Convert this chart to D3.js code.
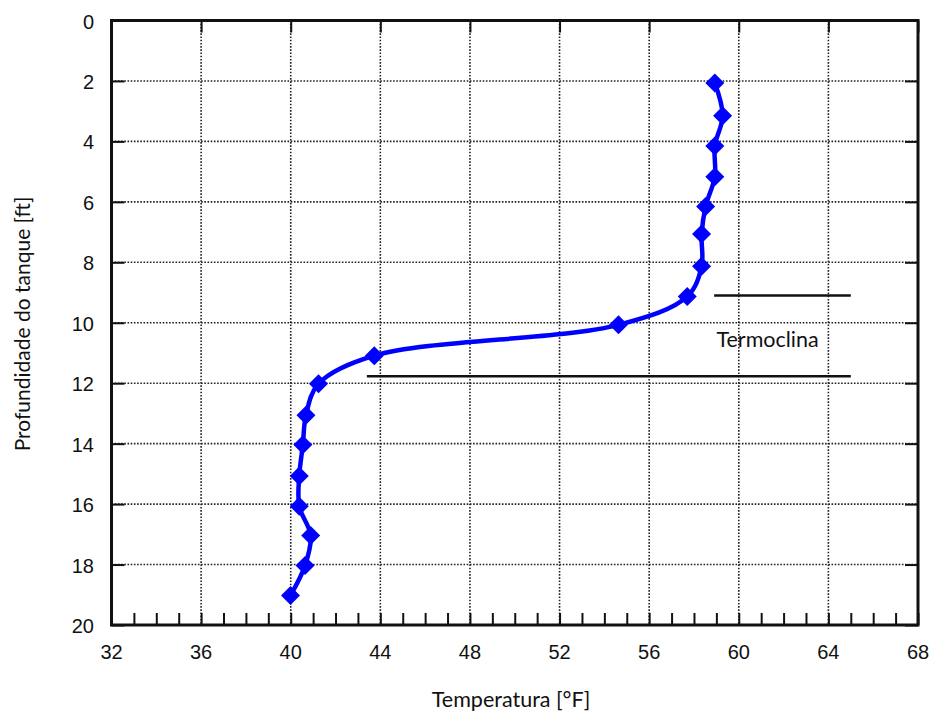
<!DOCTYPE html>
<html>
<head>
<meta charset="utf-8">
<script src="https://cdn.jsdelivr.net/npm/d3@7"></script>
<style>
  body { margin: 0; background: #fff; }
</style>
</head>
<body>
<div id="chart"></div>
<script>
// depth profile of the tank
var depths = [2.07, 3.15, 4.15, 5.17, 6.15, 7.06, 8.13, 9.13, 10.07, 11.09, 12.02, 13.06, 14.04, 15.07, 16.07, 17.04, 18.03, 19.02];
var temps  = [58.93, 59.28, 58.93, 58.93, 58.52, 58.34, 58.34, 57.70, 54.63, 43.73, 41.24, 40.68, 40.54, 40.38, 40.38, 40.89, 40.64, 39.99];

var xTicks = [32, 36, 40, 44, 48, 52, 56, 60, 64, 68];
var yTicks = [0, 2, 4, 6, 8, 10, 12, 14, 16, 18, 20];

// thermocline markers: [tempStart, tempEnd, depth]
var thermoTop = [58.9, 65.0, 9.1];
var thermoBottom = [43.4, 65.0, 11.77];
var thermoLabel = "Termoclina";

var w = 934, h = 713;
var pLeft = 111.5, pRight = 918, pTop = 20.5, pBottom = 625;
var tickFont = "'Liberation Sans', Arial, sans-serif";
var titleFont = "Lato, 'Open Sans', sans-serif";

function lineChart() {
	var xScale = d3.scaleLinear().domain([32, 68]).range([pLeft, pRight]);
	var yScale = d3.scaleLinear().domain([0, 20]).range([pTop, pBottom]);

	var svg = d3.select("#chart").append("svg")
		.attr("width", w)
		.attr("height", h);

	// dotted grid
	svg.append("g").selectAll("line")
		.data(xTicks.slice(1, -1))
		.enter().append("line")
		.attr("x1", function(d) { return xScale(d); })
		.attr("x2", function(d) { return xScale(d); })
		.attr("y1", pTop).attr("y2", pBottom)
		.attr("stroke", "#222").attr("stroke-width", 1.6)
		.attr("stroke-dasharray", "1.6,1.6");

	svg.append("g").selectAll("line")
		.data(yTicks.slice(1, -1))
		.enter().append("line")
		.attr("y1", function(d) { return yScale(d); })
		.attr("y2", function(d) { return yScale(d); })
		.attr("x1", pLeft).attr("x2", pRight)
		.attr("stroke", "#222").attr("stroke-width", 1.6)
		.attr("stroke-dasharray", "1.6,1.6");

	// axes (ticks pointing inward)
	var xBottom = d3.axisTop(xScale).tickValues(d3.range(32, 69)).tickSize(12).tickFormat("");
	var xTop = d3.axisBottom(xScale).tickValues(xTicks).tickSize(12).tickFormat("");
	var yLeft = d3.axisRight(yScale).tickValues(yTicks).tickSize(13).tickFormat("");
	var yRight = d3.axisLeft(yScale).tickValues(yTicks).tickSize(13).tickFormat("");

	[[xBottom, "translate(0," + pBottom + ")"],
	 [xTop, "translate(0," + pTop + ")"],
	 [yLeft, "translate(" + pLeft + ",0)"],
	 [yRight, "translate(" + pRight + ",0)"]].forEach(function(a) {
		var g = svg.append("g").attr("transform", a[1]).call(a[0]);
		g.select(".domain").remove();
		g.selectAll("line").attr("stroke", "#111").attr("stroke-width", 2);
	});

	svg.append("rect")
		.attr("x", pLeft).attr("y", pTop)
		.attr("width", pRight - pLeft).attr("height", pBottom - pTop)
		.attr("fill", "none").attr("stroke", "#111").attr("stroke-width", 3);

	// tick labels
	svg.append("g").selectAll("text")
		.data(xTicks)
		.enter().append("text")
		.attr("font-family", tickFont).attr("font-size", 20).attr("fill", "#111")
		.attr("x", function(d) { return xScale(d); })
		.attr("y", 659)
		.attr("text-anchor", "middle")
		.text(function(d) { return d; });

	svg.append("g").selectAll("text")
		.data(yTicks)
		.enter().append("text")
		.attr("font-family", tickFont).attr("font-size", 20).attr("fill", "#111")
		.attr("x", 94)
		.attr("y", function(d) { return yScale(d) + 8; })
		.attr("text-anchor", "end")
		.text(function(d) { return d; });

	// thermocline lines
	[thermoTop, thermoBottom].forEach(function(t) {
		svg.append("line")
			.attr("x1", xScale(t[0])).attr("x2", xScale(t[1]))
			.attr("y1", yScale(t[2])).attr("y2", yScale(t[2]))
			.attr("stroke", "#111").attr("stroke-width", 2.5);
	});

	svg.append("text")
		.attr("font-family", titleFont).attr("font-size", 21.5).attr("fill", "#111")
		.attr("x", xScale(59.0))
		.attr("y", yScale(10.79))
		.text(thermoLabel);

	// profile
	var pts = depths.map(function(d, i) { return [temps[i], d]; });

	var line = d3.line()
		.x(function(d) { return xScale(d[0]); })
		.y(function(d) { return yScale(d[1]); })
		.curve(d3.curveCatmullRom.alpha(0.5));

	svg.append("path")
		.datum(pts)
		.attr("d", line)
		.attr("fill", "none")
		.attr("stroke", "#0000ff")
		.attr("stroke-width", 4.5);

	svg.append("g").selectAll("path")
		.data(pts)
		.enter().append("path")
		.attr("transform", function(d) { return "translate(" + xScale(d[0]) + "," + yScale(d[1]) + ")"; })
		.attr("d", "M0,-9.5L9.5,0L0,9.5L-9.5,0Z")
		.attr("fill", "#0000ff");

	// axis titles
	svg.append("text")
		.attr("font-family", titleFont).attr("font-size", 21.5).attr("fill", "#111")
		.attr("x", 511).attr("y", 707)
		.attr("text-anchor", "middle")
		.text("Temperatura [°F]");

	svg.append("text")
		.attr("font-family", titleFont).attr("font-size", 21).attr("fill", "#111")
		.attr("transform", "translate(30,324) rotate(-90)")
		.attr("text-anchor", "middle")
		.text("Profundidade do tanque [ft]");
}

window.onload = lineChart;
</script>
</body>
</html>
